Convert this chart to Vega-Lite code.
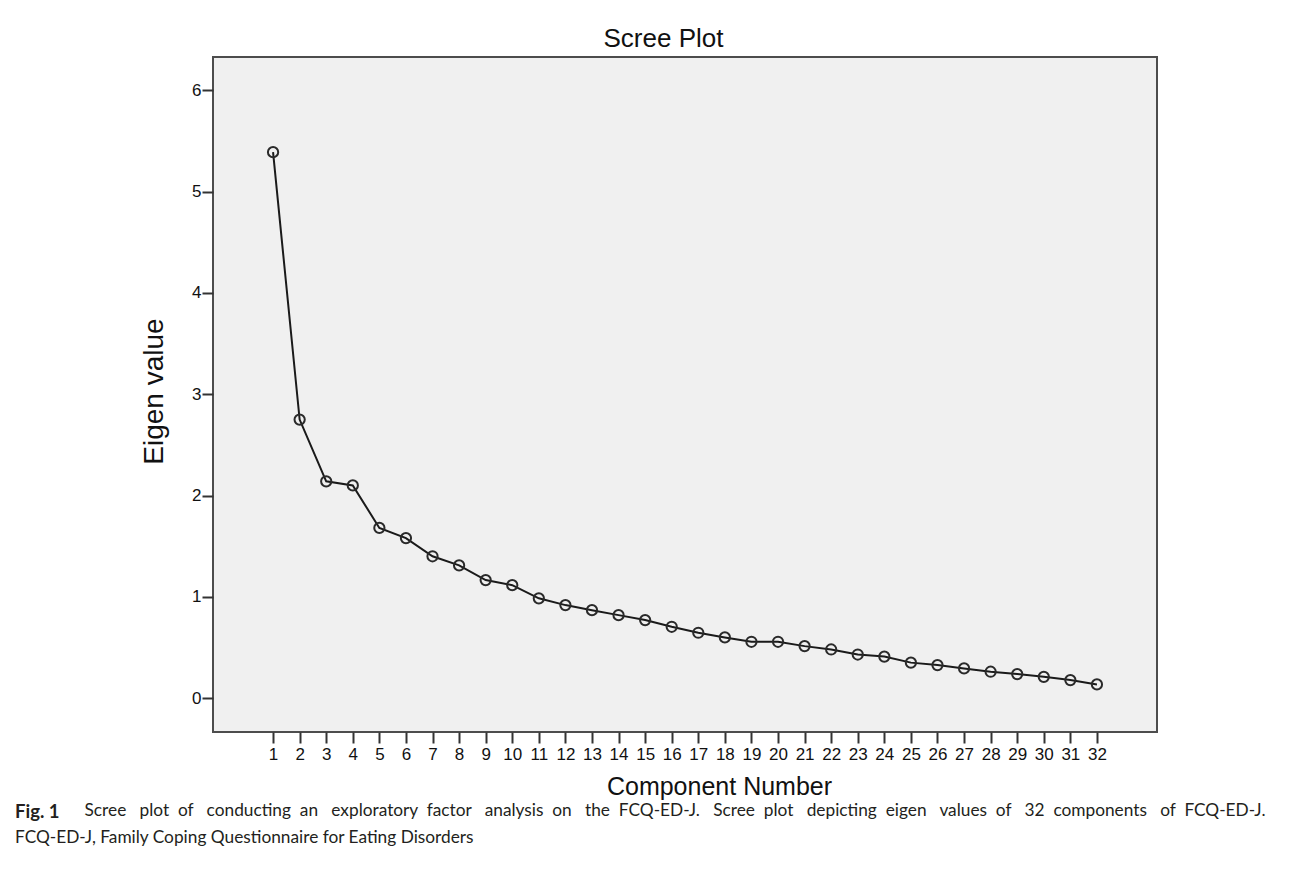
{
  "$schema": "https://vega.github.io/schema/vega-lite/v6.json",
  "autosize": {"type": "none"},
  "width": 944,
  "height": 675,
  "padding": {"left": 213, "top": 57, "right": 133, "bottom": 139},
  "background": "white",
  "config": {
    "view": {"fill": "#f0f0f0", "stroke": "#4d4d4d", "strokeWidth": 2},
    "font": "Liberation Sans"
  },
  "title": {
    "text": "Fig. 1",
    "subtitle": "FCQ-ED-J, Family Coping Questionnaire for Eating Disorders",
    "orient": "bottom",
    "anchor": "start",
    "frame": "group",
    "dx": -198,
    "offset": -15,
    "font": "Lato",
    "fontSize": 18.5,
    "fontWeight": "bold",
    "color": "#231f20",
    "subtitleFont": "Lato",
    "subtitleFontSize": 17.3,
    "subtitleColor": "#231f20",
    "subtitlePadding": 7
  },
  "data": {
    "values": [
      {"component": 1, "eigen": 5.39},
      {"component": 2, "eigen": 2.75},
      {"component": 3, "eigen": 2.14},
      {"component": 4, "eigen": 2.10},
      {"component": 5, "eigen": 1.68},
      {"component": 6, "eigen": 1.58},
      {"component": 7, "eigen": 1.40},
      {"component": 8, "eigen": 1.31},
      {"component": 9, "eigen": 1.165},
      {"component": 10, "eigen": 1.115},
      {"component": 11, "eigen": 0.985},
      {"component": 12, "eigen": 0.918},
      {"component": 13, "eigen": 0.868},
      {"component": 14, "eigen": 0.819},
      {"component": 15, "eigen": 0.77},
      {"component": 16, "eigen": 0.704},
      {"component": 17, "eigen": 0.645},
      {"component": 18, "eigen": 0.599},
      {"component": 19, "eigen": 0.556},
      {"component": 20, "eigen": 0.556},
      {"component": 21, "eigen": 0.513},
      {"component": 22, "eigen": 0.48},
      {"component": 23, "eigen": 0.43},
      {"component": 24, "eigen": 0.41},
      {"component": 25, "eigen": 0.35},
      {"component": 26, "eigen": 0.326},
      {"component": 27, "eigen": 0.293},
      {"component": 28, "eigen": 0.26},
      {"component": 29, "eigen": 0.237},
      {"component": 30, "eigen": 0.21},
      {"component": 31, "eigen": 0.178},
      {"component": 32, "eigen": 0.135}
    ]
  },
  "layer": [
    {
      "mark": {"type": "line", "color": "#1a1a1a", "strokeWidth": 2},
      "encoding": {
        "x": {
          "field": "component", "type": "quantitative",
          "scale": {"domain": [-1.26, 34.26], "nice": false, "zero": false},
          "axis": {
            "orient": "bottom",
            "values": [1,2,3,4,5,6,7,8,9,10,11,12,13,14,15,16,17,18,19,20,21,22,23,24,25,26,27,28,29,30,31,32],
            "title": "Component Number",
            "domain": false, "grid": false,
            "tickSize": 11, "tickWidth": 2, "tickColor": "#333333",
            "labelFontSize": 17, "labelColor": "#111111", "labelPadding": 3,
            "labelOverlap": false, "labelFlush": false,
            "titleFontSize": 25, "titleFontWeight": "normal", "titleColor": "#111111",
            "titleX": 506, "titleY": 62, "titleBaseline": "alphabetic", "titleAlign": "center"
          }
        },
        "y": {
          "field": "eigen", "type": "quantitative",
          "scale": {"domain": [-0.335, 6.33], "nice": false, "zero": false},
          "axis": {
            "orient": "left",
            "values": [0,1,2,3,4,5,6],
            "title": "Eigen value",
            "domain": false, "grid": false,
            "tickSize": 11, "tickWidth": 2, "tickColor": "#333333",
            "labelFontSize": 17, "labelColor": "#111111", "labelPadding": 1,
            "titleFontSize": 28, "titleFontWeight": "normal", "titleColor": "#111111",
            "titleAngle": -90, "titleX": -51, "titleY": 334,
            "titleBaseline": "alphabetic", "titleAlign": "center"
          }
        }
      }
    },
    {
      "mark": {"type": "point", "shape": "circle", "filled": false, "size": 105, "stroke": "#2a2a2a", "strokeWidth": 2, "opacity": 1},
      "encoding": {
        "x": {
          "field": "component", "type": "quantitative",
          "scale": {"domain": [-1.26, 34.26], "nice": false, "zero": false},
          "axis": {
            "orient": "top",
            "title": "Scree Plot",
            "labels": false, "ticks": false, "domain": false, "grid": false,
            "titleFontSize": 26, "titleFontWeight": "normal", "titleColor": "#111111",
            "titleX": 450, "titleY": -11, "titleBaseline": "alphabetic", "titleAlign": "center"
          }
        },
        "y": {
          "field": "eigen", "type": "quantitative",
          "scale": {"domain": [-0.335, 6.33], "nice": false, "zero": false},
          "axis": {
            "orient": "right",
            "title": "Scree \u00a0\u00a0plot \u00a0of \u00a0\u00a0conducting \u00a0an \u00a0\u00a0exploratory \u00a0factor \u00a0\u00a0analysis \u00a0on \u00a0\u00a0the \u00a0FCQ-ED-J. \u00a0\u00a0Scree \u00a0plot \u00a0\u00a0depicting \u00a0eigen \u00a0\u00a0values \u00a0of \u00a0\u00a032 \u00a0components \u00a0\u00a0of \u00a0FCQ-ED-J.",
            "labels": false, "ticks": false, "domain": false, "grid": false,
            "titleFont": "Lato", "titleFontSize": 17.3, "titleFontWeight": "normal", "titleColor": "#231f20",
            "titleAngle": 0, "titleX": -1073, "titleY": 758,
            "titleBaseline": "alphabetic", "titleAlign": "left", "titleLimit": 1300
          }
        }
      }
    }
  ],
  "resolve": {"axis": {"x": "independent", "y": "independent"}}
}
